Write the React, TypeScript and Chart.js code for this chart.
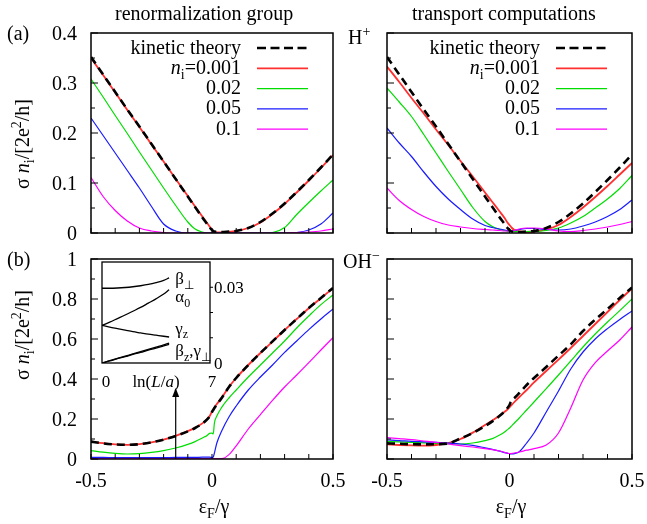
import React, { useEffect, useRef } from 'react';
import { Chart, registerables } from 'chart.js';

Chart.register(...registerables);

const W = 647;
const H = 524;
const SERIF = '"Liberation Serif", "Times New Roman", Times, serif';

// ---------- data: Fermi energy grid (ε_F/γ) ----------
const energies = [-0.5, -0.45, -0.4, -0.35, -0.3, -0.25, -0.2, -0.15, -0.1, -0.07, -0.04, -0.02, -0.01, 0, 0.005, 0.01, 0.02, 0.04, 0.07, 0.1, 0.15, 0.2, 0.25, 0.3, 0.35, 0.4, 0.45, 0.5];

// (a) H+ : renormalization group
const kineticH = [0.352, 0.317, 0.282, 0.247, 0.213, 0.178, 0.143, 0.108, 0.073, 0.052, 0.031, 0.018, 0.011, 0.006, 0.004, 0.003, 0.002, 0.002, 0.003, 0.004, 0.01, 0.022, 0.039, 0.059, 0.082, 0.106, 0.131, 0.157];
const redRgH = [0.35, 0.316, 0.281, 0.246, 0.212, 0.177, 0.143, 0.108, 0.074, 0.053, 0.033, 0.02, 0.013, 0.007, 0.004, 0.002, 0.001, 0.001, 0.002, 0.004, 0.01, 0.021, 0.038, 0.058, 0.081, 0.105, 0.13, 0.156];
const greenRgH = [0.308, 0.272, 0.235, 0.199, 0.162, 0.126, 0.09, 0.055, 0.022, 0.008, 0.002, 0, 0, 0, 0, 0, 0, 0, 0, 0, 0, 0, 0.001, 0.011, 0.037, 0.061, 0.084, 0.106];
const blueRgH = [0.23, 0.195, 0.16, 0.125, 0.09, 0.053, 0.018, 0.004, 0, 0, 0, 0, 0, 0, 0, 0, 0, 0, 0, 0, 0, 0, 0, 0, 0.001, 0.006, 0.018, 0.04];
const magentaRgH = [0.111, 0.073, 0.045, 0.024, 0.01, 0.004, 0.001, 0, 0, 0, 0, 0, 0, 0, 0, 0, 0, 0, 0, 0, 0, 0, 0, 0, 0.001, 0.002, 0.004, 0.008];

// (a) H+ : transport computations
const redTcH = [0.333, 0.302, 0.27, 0.239, 0.207, 0.176, 0.144, 0.113, 0.081, 0.062, 0.043, 0.03, 0.022, 0.016, 0.013, 0.01, 0.006, 0.003, 0.002, 0.003, 0.007, 0.016, 0.032, 0.051, 0.072, 0.094, 0.117, 0.14];
const greenTcH = [0.29, 0.262, 0.233, 0.197, 0.16, 0.123, 0.087, 0.051, 0.023, 0.013, 0.007, 0.005, 0.004, 0.003, 0.003, 0.003, 0.003, 0.003, 0.003, 0.003, 0.005, 0.01, 0.02, 0.033, 0.05, 0.068, 0.089, 0.115];
const blueTcH = [0.21, 0.18, 0.153, 0.122, 0.093, 0.068, 0.047, 0.028, 0.015, 0.011, 0.008, 0.006, 0.005, 0.004, 0.004, 0.004, 0.005, 0.007, 0.009, 0.009, 0.007, 0.006, 0.008, 0.014, 0.022, 0.033, 0.047, 0.066];
const magentaTcH = [0.09, 0.065, 0.047, 0.033, 0.023, 0.016, 0.012, 0.009, 0.007, 0.006, 0.005, 0.004, 0.004, 0.004, 0.004, 0.004, 0.005, 0.008, 0.01, 0.01, 0.008, 0.004, 0.003, 0.005, 0.008, 0.012, 0.017, 0.023];

// (b) OH- : renormalization group
const kineticRgOH = [0.087, 0.078, 0.073, 0.071, 0.074, 0.083, 0.097, 0.115, 0.138, 0.155, 0.177, 0.198, 0.213, 0.235, 0.245, 0.255, 0.272, 0.305, 0.36, 0.405, 0.47, 0.53, 0.588, 0.645, 0.7, 0.755, 0.805, 0.855];
const redRgOH = [0.088, 0.079, 0.073, 0.071, 0.074, 0.083, 0.097, 0.116, 0.139, 0.156, 0.178, 0.199, 0.214, 0.238, 0.248, 0.258, 0.275, 0.307, 0.36, 0.405, 0.47, 0.53, 0.587, 0.645, 0.7, 0.754, 0.804, 0.854];
const greenRgOH = [0.042, 0.034, 0.028, 0.025, 0.027, 0.033, 0.042, 0.055, 0.073, 0.087, 0.105, 0.118, 0.128, 0.13, 0.125, 0.18, 0.215, 0.258, 0.305, 0.345, 0.41, 0.47, 0.53, 0.59, 0.655, 0.715, 0.772, 0.82];
const blueRgOH = [0.008, 0.008, 0.007, 0.007, 0.007, 0.007, 0.007, 0.008, 0.008, 0.008, 0.009, 0.009, 0.009, 0.008, 0.01, 0.03, 0.08, 0.14, 0.21, 0.265, 0.345, 0.41, 0.47, 0.533, 0.59, 0.647, 0.7, 0.75];
const magentaRgOH = [0.002, 0.002, 0.002, 0.002, 0.002, 0.002, 0.002, 0.002, 0.002, 0.002, 0.002, 0.002, 0.002, 0.002, 0.002, 0.002, 0.002, 0.002, 0.022, 0.066, 0.15, 0.222, 0.293, 0.36, 0.42, 0.482, 0.545, 0.607];

// (b) OH- : transport computations
const kineticTcOH = [0.078, 0.076, 0.074, 0.073, 0.074, 0.078, 0.103, 0.13, 0.165, 0.188, 0.216, 0.238, 0.252, 0.27, 0.285, 0.295, 0.305, 0.33, 0.37, 0.405, 0.46, 0.517, 0.573, 0.64, 0.697, 0.75, 0.805, 0.857];
const redTcOH = [0.073, 0.07, 0.068, 0.067, 0.07, 0.08, 0.1, 0.132, 0.17, 0.193, 0.218, 0.236, 0.246, 0.258, 0.265, 0.272, 0.285, 0.31, 0.345, 0.383, 0.44, 0.497, 0.555, 0.615, 0.675, 0.735, 0.795, 0.853];
const greenTcOH = [0.088, 0.086, 0.083, 0.081, 0.078, 0.076, 0.075, 0.08, 0.092, 0.102, 0.12, 0.135, 0.145, 0.155, 0.161, 0.167, 0.18, 0.205, 0.245, 0.285, 0.352, 0.42, 0.49, 0.56, 0.625, 0.685, 0.742, 0.8];
const blueTcOH = [0.095, 0.092, 0.088, 0.086, 0.083, 0.079, 0.075, 0.068, 0.056, 0.048, 0.039, 0.032, 0.029, 0.027, 0.026, 0.026, 0.027, 0.036, 0.08, 0.13, 0.235, 0.34, 0.45, 0.535, 0.6, 0.652, 0.698, 0.74];
const magentaTcOH = [0.107, 0.102, 0.097, 0.09, 0.083, 0.075, 0.067, 0.06, 0.052, 0.047, 0.04, 0.033, 0.03, 0.027, 0.027, 0.028, 0.03, 0.035, 0.044, 0.052, 0.07, 0.13, 0.255, 0.395, 0.482, 0.54, 0.595, 0.66];

// inset: couplings vs ln(L/a)
const insetLnL = [0, 0.5, 1, 1.5, 2, 2.5, 3, 3.5, 4, 4.35];
const betaPerp = [0.0296, 0.0296, 0.0297, 0.0299, 0.0302, 0.0306, 0.0311, 0.0318, 0.0327, 0.0337];
const alpha0 = [0.0149, 0.0162, 0.0176, 0.019, 0.0205, 0.022, 0.0237, 0.0254, 0.0273, 0.029];
const gammaZ = [0.0149, 0.0142, 0.0136, 0.013, 0.0124, 0.0119, 0.0114, 0.011, 0.0106, 0.0103];
const betaZ = [0, 0.0009, 0.0018, 0.0027, 0.0036, 0.0045, 0.0054, 0.0063, 0.0072, 0.0079];
const gammaPerp = [0, 0.0008, 0.0017, 0.0025, 0.0034, 0.0042, 0.0051, 0.0059, 0.0068, 0.0074];

// ---------- ticks ----------
const xTickValues = [-0.5, -0.4, -0.3, -0.2, -0.1, 0, 0.1, 0.2, 0.3, 0.4, 0.5];
const xLabelValues = [-0.5, 0, 0.5];
const xTickLabels = ['-0.5', '0', '0.5'];
const yTicksA = [0, 0.1, 0.2, 0.3, 0.4];
const yTickLabelsA = ['0', '0.1', '0.2', '0.3', '0.4'];
const yMinorA = [0.05, 0.15, 0.25, 0.35];
const yTicksB = [0, 0.2, 0.4, 0.6, 0.8, 1];
const yTickLabelsB = ['0', '0.2', '0.4', '0.6', '0.8', '1'];
const yMinorB = [0.1, 0.3, 0.5, 0.7, 0.9];
const insetYTicks = [0.01, 0.02, 0.03];
const insetYLabelValues = [0, 0.03];
const insetYLabels = ['0', '0.03'];
const insetXLabelValues = [0, 7];
const insetXLabels = ['0', '7'];

const seriesNames = ['kinetic theory', 'n_i=0.001', '0.02', '0.05', '0.1'];
const seriesColors = ['#000000', '#ff3030', '#00dd00', '#1a1aff', '#ff00ff'];
const seriesWidths = [2.6, 1.8, 1.2, 1.2, 1.2];
const seriesDash = [[8, 5], [], [], [], []];

const arrowEnergy = -0.15;
const arrowTop = 0.355;

type Seg = [string, string];

function rich(ctx: any, segs: Seg[], x: number, y: number, size: number, align: string) {
  const fontFor = (k: string) =>
    k === 'it' ? `italic ${size}px ${SERIF}` : k === 'sub' ? `${Math.round(size * 0.7)}px ${SERIF}` : `${size}px ${SERIF}`;
  let total = 0;
  const ws = segs.map(([t, k]) => {
    ctx.font = fontFor(k);
    const w = ctx.measureText(t).width;
    total += w;
    return w;
  });
  let cx = align === 'right' ? x - total : align === 'center' ? x - total / 2 : x;
  ctx.textAlign = 'left';
  segs.forEach(([t, k], i) => {
    ctx.font = fontFor(k);
    ctx.fillText(t, cx, k === 'sub' ? y + size * 0.28 : y);
    cx += ws[i];
  });
}

type PanelCfg = {
  rect: number[];
  yMax: number;
  yTicks: number[];
  yTickLabels: string[];
  yMinor: number[];
  showY: boolean;
  showX: boolean;
  legend: boolean;
  arrow: boolean;
  series: number[][];
};

function makePanel(canvas: HTMLCanvasElement, cfg: PanelCfg) {
  const [l, t, r, b] = cfg.rect;
  const datasets = cfg.series.map((ys, i) => ({
    label: seriesNames[i],
    data: energies.map((e, j) => ({ x: e, y: ys[j] })),
    borderColor: seriesColors[i],
    borderWidth: seriesWidths[i],
    borderDash: seriesDash[i],
    pointRadius: 0,
    fill: false,
    cubicInterpolationMode: 'monotone',
    order: i === 0 ? 0 : 5 - i,
  }));
  const deco = {
    id: 'deco',
    afterDraw(chart: any) {
      const ctx = chart.ctx;
      const { left, top, right, bottom } = chart.chartArea;
      const sx = chart.scales.x;
      const sy = chart.scales.y;
      ctx.save();
      ctx.setLineDash([]);
      ctx.strokeStyle = '#000';
      ctx.fillStyle = '#000';
      ctx.lineWidth = 1;
      ctx.beginPath();
      cfg.yTicks.forEach((v) => {
        const y = sy.getPixelForValue(v);
        ctx.moveTo(left, y);
        ctx.lineTo(left + 7, y);
      });
      cfg.yMinor.forEach((v) => {
        const y = sy.getPixelForValue(v);
        ctx.moveTo(left, y);
        ctx.lineTo(left + 4, y);
      });
      xTickValues.forEach((v) => {
        const x = sx.getPixelForValue(v);
        ctx.moveTo(x, bottom);
        ctx.lineTo(x, bottom - 5);
      });
      ctx.stroke();
      ctx.lineWidth = 1.5;
      ctx.strokeRect(left, top, right - left, bottom - top);
      ctx.font = `20px ${SERIF}`;
      ctx.textBaseline = 'alphabetic';
      if (cfg.showY) {
        ctx.textAlign = 'right';
        cfg.yTicks.forEach((v, i) => ctx.fillText(cfg.yTickLabels[i], left - 14, sy.getPixelForValue(v) + 6.5));
      }
      if (cfg.showX) {
        ctx.textAlign = 'center';
        xLabelValues.forEach((v, i) => ctx.fillText(xTickLabels[i], sx.getPixelForValue(v), bottom + 28));
      }
      if (cfg.legend) {
        const tx = right - 92;
        const lx1 = right - 76;
        const lx2 = right - 25;
        seriesNames.forEach((name, i) => {
          const ry = top + 15 + 20.3 * i;
          ctx.fillStyle = '#000';
          if (name.startsWith('n_i')) {
            rich(ctx, [['n', 'it'], ['i', 'sub'], [name.slice(3), 'r']], tx, ry + 5.5, 20, 'right');
          } else {
            ctx.font = `20px ${SERIF}`;
            ctx.textAlign = 'right';
            ctx.fillText(name, tx, ry + 5.5);
          }
          ctx.beginPath();
          ctx.strokeStyle = seriesColors[i];
          ctx.lineWidth = seriesWidths[i];
          ctx.setLineDash(i === 0 ? [9, 4.5] : []);
          ctx.moveTo(lx1, ry);
          ctx.lineTo(lx2, ry);
          ctx.stroke();
          ctx.setLineDash([]);
        });
      }
      if (cfg.arrow) {
        const x = sx.getPixelForValue(arrowEnergy);
        const y0 = sy.getPixelForValue(0);
        const y1 = sy.getPixelForValue(arrowTop);
        ctx.strokeStyle = '#000';
        ctx.fillStyle = '#000';
        ctx.lineWidth = 1.2;
        ctx.beginPath();
        ctx.moveTo(x, y0);
        ctx.lineTo(x, y1 + 6);
        ctx.stroke();
        ctx.beginPath();
        ctx.moveTo(x, y1);
        ctx.lineTo(x - 3.5, y1 + 9);
        ctx.lineTo(x + 3.5, y1 + 9);
        ctx.closePath();
        ctx.fill();
      }
      ctx.restore();
    },
  };
  return new Chart(canvas, {
    type: 'line',
    data: { datasets } as any,
    options: {
      animation: false,
      responsive: false,
      devicePixelRatio: 1,
      events: [],
      layout: { padding: { left: l, top: t, right: W - r, bottom: H - b } },
      plugins: { legend: { display: false }, tooltip: { enabled: false } },
      scales: {
        x: { type: 'linear', min: -0.5, max: 0.5, display: false, ticks: { display: false } },
        y: { type: 'linear', min: 0, max: cfg.yMax, display: false, ticks: { display: false } },
      },
    } as any,
    plugins: [deco],
  });
}

function makeInset(canvas: HTMLCanvasElement) {
  const [l, t, r, b] = [102, 262, 210, 363];
  const curves = [betaPerp, alpha0, gammaZ, betaZ, gammaPerp];
  const datasets = curves.map((ys) => ({
    data: insetLnL.map((x, j) => ({ x, y: ys[j] })),
    borderColor: '#000',
    borderWidth: 1.3,
    pointRadius: 0,
    fill: false,
    cubicInterpolationMode: 'monotone',
  }));
  const deco = {
    id: 'insetDeco',
    beforeDatasetsDraw(chart: any) {
      const { left, top, right, bottom } = chart.chartArea;
      chart.ctx.save();
      chart.ctx.fillStyle = '#fff';
      chart.ctx.fillRect(left, top, right - left, bottom - top);
      chart.ctx.restore();
    },
    afterDraw(chart: any) {
      const ctx = chart.ctx;
      const { left, top, right, bottom } = chart.chartArea;
      const sx = chart.scales.x;
      const sy = chart.scales.y;
      ctx.save();
      ctx.strokeStyle = '#000';
      ctx.fillStyle = '#000';
      ctx.lineWidth = 1.3;
      ctx.strokeRect(left, top, right - left, bottom - top);
      ctx.lineWidth = 1;
      ctx.beginPath();
      insetYTicks.forEach((v) => {
        const y = sy.getPixelForValue(v);
        ctx.moveTo(right, y);
        ctx.lineTo(right + 3, y);
      });
      ctx.stroke();
      ctx.font = `17px ${SERIF}`;
      ctx.textAlign = 'left';
      insetYLabelValues.forEach((v, i) => ctx.fillText(insetYLabels[i], right + 4, sy.getPixelForValue(v) + 5.5));
      ctx.textAlign = 'center';
      ctx.fillText(insetXLabels[0], sx.getPixelForValue(insetXLabelValues[0]) + 4, bottom + 24);
      ctx.fillText(insetXLabels[1], sx.getPixelForValue(insetXLabelValues[1]) + 2, bottom + 24);
      rich(ctx, [['ln(', 'r'], ['L', 'it'], ['/', 'r'], ['a', 'it'], [')', 'r']], (left + right) / 2, bottom + 24, 17, 'center');
      const lx = sx.getPixelForValue(4.75);
      rich(ctx, [['β', 'r'], ['⊥', 'sub']], lx, sy.getPixelForValue(0.0312), 17, 'left');
      rich(ctx, [['α', 'r'], ['0', 'sub']], lx, sy.getPixelForValue(0.024), 17, 'left');
      rich(ctx, [['γ', 'r'], ['z', 'sub']], lx, sy.getPixelForValue(0.0116), 17, 'left');
      rich(ctx, [['β', 'r'], ['z', 'sub'], [',γ', 'r'], ['⊥', 'sub']], lx, sy.getPixelForValue(0.0028), 17, 'left');
      ctx.restore();
    },
  };
  return new Chart(canvas, {
    type: 'line',
    data: { datasets } as any,
    options: {
      animation: false,
      responsive: false,
      devicePixelRatio: 1,
      events: [],
      layout: { padding: { left: l, top: t, right: W - r, bottom: H - b } },
      plugins: { legend: { display: false }, tooltip: { enabled: false } },
      scales: {
        x: { type: 'linear', min: 0, max: 7, display: false, ticks: { display: false } },
        y: { type: 'linear', min: 0, max: 0.04, display: false, ticks: { display: false } },
      },
    } as any,
    plugins: [deco],
  });
}

const panels: PanelCfg[] = [
  { rect: [91, 33, 333, 233], yMax: 0.4, yTicks: yTicksA, yTickLabels: yTickLabelsA, yMinor: yMinorA, showY: true, showX: false, legend: true, arrow: false, series: [kineticH, redRgH, greenRgH, blueRgH, magentaRgH] },
  { rect: [387, 33, 632, 233], yMax: 0.4, yTicks: yTicksA, yTickLabels: yTickLabelsA, yMinor: yMinorA, showY: false, showX: false, legend: true, arrow: false, series: [kineticH, redTcH, greenTcH, blueTcH, magentaTcH] },
  { rect: [91, 259, 333, 459], yMax: 1, yTicks: yTicksB, yTickLabels: yTickLabelsB, yMinor: yMinorB, showY: true, showX: true, legend: false, arrow: true, series: [kineticRgOH, redRgOH, greenRgOH, blueRgOH, magentaRgOH] },
  { rect: [387, 259, 632, 459], yMax: 1, yTicks: yTicksB, yTickLabels: yTickLabelsB, yMinor: yMinorB, showY: false, showX: true, legend: false, arrow: false, series: [kineticTcOH, redTcOH, greenTcOH, blueTcOH, magentaTcOH] },
];

function ChartCanvas({ build }: { build: (c: HTMLCanvasElement) => Chart }) {
  const ref = useRef<HTMLCanvasElement>(null);
  useEffect(() => {
    const ch = build(ref.current as HTMLCanvasElement);
    return () => ch.destroy();
  }, []);
  return <canvas ref={ref} width={W} height={H} style={{ position: 'absolute', left: 0, top: 0, width: W, height: H }} />;
}

const txt: any = { position: 'absolute', fontFamily: SERIF, fontSize: 20, lineHeight: '20px', whiteSpace: 'nowrap', color: '#000' };
const subS: any = { fontSize: 14, position: 'relative', top: 5, lineHeight: 0 };
const supS: any = { fontSize: 14, position: 'relative', top: -8, lineHeight: 0 };

function YTitle({ cx, cy }: { cx: number; cy: number }) {
  return (
    <div style={{ ...txt, left: cx, top: cy, transform: 'translate(-50%, -50%) rotate(-90deg)' }}>
      σ <i>n</i>
      <span style={subS}>i</span>/[2e<span style={supS}>2</span>/h]
    </div>
  );
}

function XTitle({ cx }: { cx: number }) {
  return (
    <div style={{ ...txt, left: cx, top: 496, transform: 'translateX(-50%)' }}>
      ε<span style={subS}>F</span>/γ
    </div>
  );
}

export default function App() {
  return (
    <div style={{ position: 'absolute', left: 0, top: 0, width: W, height: H, background: '#fff', overflow: 'hidden' }}>
      {panels.map((p, i) => (
        <ChartCanvas key={i} build={(c) => makePanel(c, p)} />
      ))}
      <ChartCanvas build={(c) => makeInset(c)} />
      <div style={{ ...txt, left: 115, top: 3 }}>renormalization group</div>
      <div style={{ ...txt, left: 412, top: 3 }}>transport computations</div>
      <div style={{ ...txt, left: 7, top: 23 }}>(a)</div>
      <div style={{ ...txt, left: 7, top: 249 }}>(b)</div>
      <div style={{ ...txt, left: 348, top: 27 }}>
        H<span style={supS}>+</span>
      </div>
      <div style={{ ...txt, left: 343, top: 251 }}>
        OH<span style={supS}>−</span>
      </div>
      <YTitle cx={22} cy={144} />
      <YTitle cx={22} cy={335} />
      <XTitle cx={214} />
      <XTitle cx={511} />
    </div>
  );
}
